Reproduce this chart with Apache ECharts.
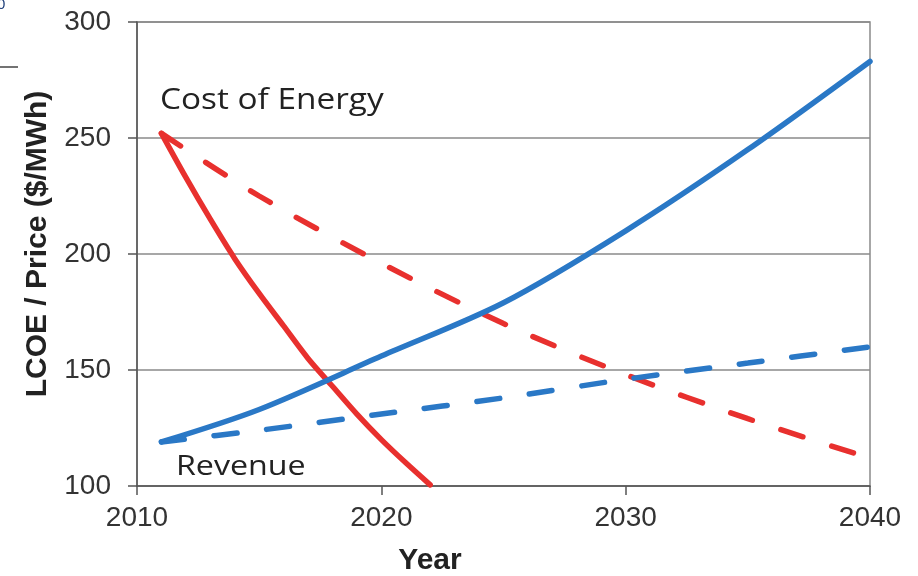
<!DOCTYPE html>
<html>
<head>
<meta charset="utf-8">
<script src="https://cdn.jsdelivr.net/npm/echarts@6/dist/echarts.min.js"></script>
<style>
  html, body { margin: 0; padding: 0; background: #fff; }
  #chart { width: 918px; height: 576px; }
</style>
</head>
<body>
<div id="chart"></div>
<script>
// values
var costSolid = [[2011, 252], [2012, 233], [2013, 215], [2014, 198], [2015, 183], [2016, 169],
                 [2017, 155], [2018, 143], [2019, 131], [2020, 120], [2021, 110], [2022, 100.5]];
var costDashed = [[2011, 252], [2015, 225], [2020, 196], [2025, 170], [2030, 148], [2035, 129], [2040, 112]];
var revSolid = [[2011, 119], [2015, 133], [2020, 156], [2025, 179], [2030, 210], [2035, 245], [2040, 283]];
var revDashed = [[2011, 119], [2015, 124], [2020, 131], [2025, 138], [2030, 146], [2035, 153], [2040, 160]];

var red = '#E8302E';
var blue = '#2A78C6';

var chart = echarts.init(document.getElementById('chart'));

function lineSeries(data, color, dashed) {
    return {
        type: 'line',
        data: data,
        smooth: 0.3,
        showSymbol: false,
        silent: true,
        clip: true,
        lineStyle: {
            color: color,
            width: 5.5,
            type: dashed ? [23, 30] : 'solid',
            cap: 'round'
        }
    };
}

chart.setOption({
    animation: false,
    grid: {
        left: 137, right: 48, top: 22, bottom: 90,
        show: true,
        borderColor: '#8a8a8a',
        borderWidth: 1.5
    },
    xAxis: {
        type: 'value',
        min: 2010, max: 2040, interval: 10,
        axisLine: { lineStyle: { color: '#555', width: 1.5 } },
        axisTick: { show: true, length: 9, lineStyle: { color: '#555', width: 1.5 } },
        axisLabel: {
            fontFamily: 'Liberation Sans', fontSize: 28, color: '#333', margin: 18,
            formatter: function (v) { return String(v); }
        },
        splitLine: { show: false }
    },
    yAxis: {
        type: 'value',
        min: 100, max: 300, interval: 50,
        axisLine: { show: true, lineStyle: { color: '#555', width: 1.5 } },
        axisTick: { show: true, length: 9, lineStyle: { color: '#555', width: 1.5 } },
        axisLabel: { fontFamily: 'Liberation Sans', fontSize: 28, color: '#333', margin: 26 },
        splitLine: { show: true, lineStyle: { color: '#8a8a8a', width: 1.5 } }
    },
    graphic: [
        { type: 'text', x: 38, y: 244, rotation: Math.PI / 2,
          style: { text: 'LCOE / Price ($/MWh)', fontFamily: 'Liberation Sans', fontWeight: 'bold',
                   fontSize: 30, fill: '#222', align: 'center', verticalAlign: 'middle' } },
        { type: 'text', x: 430, y: 561,
          style: { text: 'Year', fontFamily: 'Liberation Sans', fontWeight: 'bold',
                   fontSize: 30, fill: '#222', align: 'center', verticalAlign: 'middle' } },
        { type: 'text', x: 160, y: 86, scaleX: 1.15,
          style: { text: 'Cost of Energy', fontFamily: 'Open Sans', fontSize: 29, fill: '#222' } },
        { type: 'text', x: 176, y: 453, scaleX: 1.15,
          style: { text: 'Revenue', fontFamily: 'Open Sans', fontSize: 28, fill: '#222' } },
        { type: 'text', x: -3, y: -3,
          style: { text: '0', fontFamily: 'Liberation Sans', fontSize: 15, fill: '#1f3f7a' } },
        { type: 'line', shape: { x1: 0, y1: 67, x2: 18, y2: 67 },
          style: { stroke: '#444', lineWidth: 1.5 } }
    ],
    series: [
        lineSeries(costSolid, red, false),
        lineSeries(costDashed, red, true),
        lineSeries(revSolid, blue, false),
        lineSeries(revDashed, blue, true)
    ]
});
</script>
</body>
</html>
